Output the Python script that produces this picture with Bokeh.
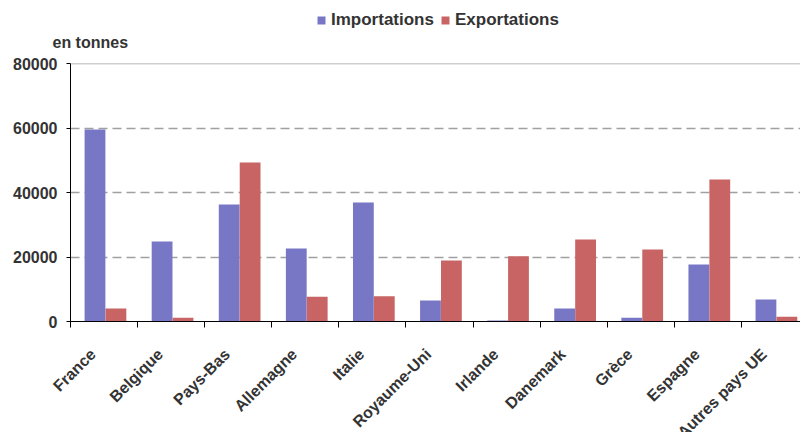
from bokeh.plotting import figure
from bokeh.models import FixedTicker, Span, ColumnDataSource, Range1d, Label
from bokeh.layouts import column
from bokeh.embed import file_html
from bokeh.resources import INLINE
from bokeh.transform import dodge
import math

countries = ["France", "Belgique", "Pays-Bas", "Allemagne", "Italie", "Royaume-Uni",
             "Irlande", "Danemark", "Grèce", "Espagne", "Autres pays UE"]
importations = [59500, 24800, 36300, 22600, 36900, 6500, 300, 4000, 1200, 17700, 6800]
exportations = [4000, 1200, 49300, 7700, 7800, 18900, 20200, 25400, 22300, 44000, 1500]
y_ticks = [0, 20000, 40000, 60000, 80000]
series = ["Importations", "Exportations"]
fields = ["imp", "exp"]
colors = ["#7777c6", "#c86464"]

centers = [i + 0.5 for i in range(len(countries))]
label_pos = [c - 0.165 for c in centers]
bounds = [float(i) for i in range(len(countries) + 1)]

src = ColumnDataSource(dict(x=centers, imp=importations, exp=exportations))

FONT = "Liberation Sans"
TXT = "#333333"

# ---- header: legend and unit label ----
HEAD_H = 52
h = figure(width=800, height=HEAD_H, min_border=0, x_range=Range1d(0, 800),
           y_range=Range1d(0, HEAD_H), output_backend="svg", toolbar_location=None)
h.frame_align = False
h.axis.visible = False
h.grid.visible = False
h.outline_line_color = None
for name, fld, col in zip(series, fields, colors):
    # legend swatches only: empty (zero-size) bars, nothing visible in the header itself
    h.vbar(x="x", bottom=fld, top=fld, width=0, source=src,
           fill_color=col, line_color=None, legend_label=name)
lg = h.legend[0]
lg.location = (316, 22)
lg.orientation = "horizontal"
lg.padding = 0
lg.margin = 0
lg.spacing = 6
lg.glyph_width = 10
lg.glyph_height = 10
lg.label_standoff = 5
lg.border_line_color = None
lg.background_fill_alpha = 0
lg.label_text_font = FONT
lg.label_text_font_style = "bold"
lg.label_text_font_size = "17px"
lg.label_text_color = TXT
h.add_layout(Label(x=52, y=HEAD_H - 42, text="en tonnes", text_font=FONT,
                   text_font_style="bold", text_font_size="16px", text_color=TXT,
                   text_align="left", text_baseline="middle"))

# ---- main chart ----
p = figure(frame_width=730, frame_height=258, min_border_left=70, min_border_top=63 - HEAD_H,
           min_border_right=0, min_border_bottom=10,
           x_range=Range1d(0, 10.88), y_range=Range1d(0, 80000),
           output_backend="svg", toolbar_location=None)
p.frame_align = False

p.vbar(x=dodge("x", -0.135, range=p.x_range), top="imp", width=0.31, source=src,
       fill_color=colors[0], line_color=None)
p.vbar(x=dodge("x", 0.177, range=p.x_range), top="exp", width=0.31, source=src,
       fill_color=colors[1], line_color=None)

p.outline_line_color = None
p.xgrid.grid_line_color = None
p.ygrid.ticker = FixedTicker(ticks=y_ticks)
p.ygrid.grid_line_color = "#a0a0a0"
p.ygrid.grid_line_width = 1.5
p.ygrid.grid_line_dash = "9 5"
p.add_layout(Span(location=80000, dimension="width", line_color="#a0a0a0", line_width=1.5))

ya = p.yaxis[0]
ya.ticker = FixedTicker(ticks=y_ticks)
ya.axis_line_color = "black"
ya.major_tick_line_color = "black"
ya.major_tick_out = 4
ya.major_tick_in = 0
ya.minor_tick_line_color = None
ya.major_label_text_font = FONT
ya.major_label_text_font_style = "bold"
ya.major_label_text_font_size = "16px"
ya.major_label_text_color = TXT
ya.major_label_standoff = 9

xa = p.xaxis[0]
xa.ticker = FixedTicker(ticks=label_pos, minor_ticks=bounds)
xa.major_label_overrides = {c: n for c, n in zip(label_pos, countries)}
xa.axis_line_color = "black"
xa.major_tick_out = 0
xa.major_tick_in = 0
xa.minor_tick_line_color = "black"
xa.minor_tick_out = 6
xa.minor_tick_in = 0
xa.major_label_orientation = math.pi / 4
xa.major_label_text_font = FONT
xa.major_label_text_font_style = "bold"
xa.major_label_text_font_size = "16px"
xa.major_label_text_color = TXT
xa.major_label_standoff = 24

layout = column(h, p, spacing=0)
open("out.html", "w").write(file_html(layout, INLINE))
